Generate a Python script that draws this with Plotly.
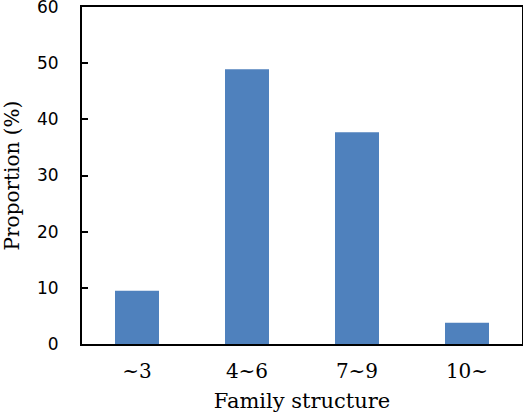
import plotly.graph_objects as go

categories = ["~3", "4~6", "7~9", "10~"]
proportions = [9.5, 48.9, 37.7, 3.8]
y_ticks = [0, 10, 20, 30, 40, 50, 60]

fig = go.Figure(go.Bar(
    x=categories, y=proportions,
    marker=dict(color="#4F81BD", line=dict(width=0)),
))

fig.update_layout(
    width=523, height=418,
    margin=dict(l=82, r=1, t=7, b=74),
    paper_bgcolor="white", plot_bgcolor="white",
    bargap=0.6,
    showlegend=False,
)
fig.update_xaxes(
    automargin=False,
    showline=True, linecolor="black", linewidth=2, mirror=True,
    ticks="", showgrid=False,
    tickfont=dict(family="DejaVu Serif", size=20, color="black"),
    ticklabelstandoff=8,
    title=dict(text="Family structure", font=dict(family="DejaVu Serif", size=21, color="black"), standoff=11),
)
fig.update_yaxes(
    automargin=False,
    range=[0, 60], tickvals=y_ticks,
    showline=True, linecolor="black", linewidth=2, mirror=True,
    ticks="inside", ticklen=6, tickwidth=1.5, tickcolor="black",
    showgrid=False, zeroline=False,
    tickfont=dict(family="DejaVu Sans", size=17, color="black"),
    ticklabelstandoff=18, ticklabeloverflow="allow",
    title=dict(text="Proportion (%)", font=dict(family="DejaVu Serif", size=20, color="black"), standoff=12),
)

fig.write_html("out.html", config={"displayModeBar": False},
               post_script="document.body.style.margin='0px';")
